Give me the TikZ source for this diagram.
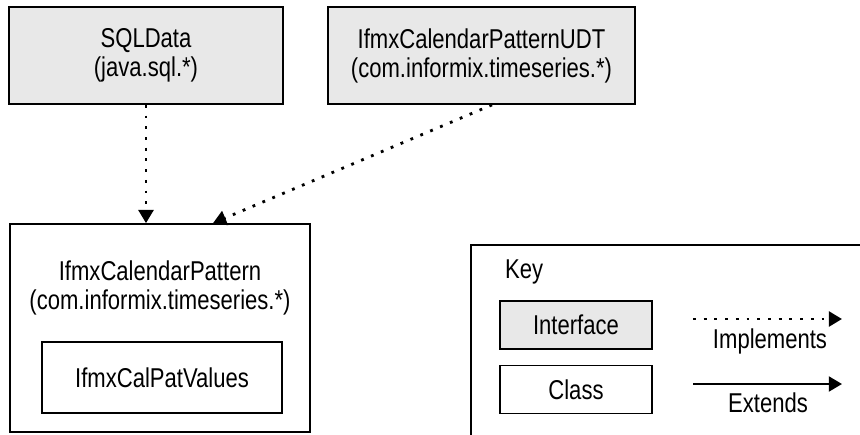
\documentclass[tikz,border=0pt]{standalone}
\usepackage{fontspec}
\setmainfont{Liberation Sans}[FakeStretch=0.81]
\usetikzlibrary{arrows.meta,calc}
\definecolor{ifacegray}{gray}{0.91}
\begin{document}
\begin{tikzpicture}[x=0.02cm,y=-0.02cm,
	iface/.style={draw,line width=1pt,fill=ifacegray,align=center,font=\fontsize{15.5}{16.5}\selectfont},
	cls/.style={draw,line width=1pt,align=center,font=\fontsize{15.5}{16.5}\selectfont},
	txt/.style={align=center,font=\fontsize{15.5}{16.5}\selectfont},
	impl/.style={line width=1.6pt,dash pattern=on 1.6pt off 4.5pt,-{Triangle[width=8.5pt,length=7.5pt]}},
	ext/.style={line width=1.3pt,-{Triangle[width=8.5pt,length=7.5pt]}}]
			\useasboundingbox (0,0) rectangle (860,434);
			\clip (0,0) rectangle (860,434);
			% interfaces
			\node[iface,minimum width=5.48cm,minimum height=1.94cm] (sql) at (146,55.5) {SQLData\\(java.sql.*)};
			\node[iface,minimum width=6.14cm,minimum height=1.94cm] (udt) at (481.5,55.5) {IfmxCalendarPatternUDT\\(com.informix.timeseries.*)};
			% class
			\node[cls,minimum width=6cm,minimum height=4.16cm] (cal) at (160,328) {};
			\node[txt] (caltitle) at (160,287.5) {IfmxCalendarPattern\\(com.informix.timeseries.*)};
			\node[cls,minimum width=4.8cm,minimum height=1.42cm] (calvals) at (162,377.5) {IfmxCalPatValues};
			\draw[impl] (sql) -- (sql |- cal.north);
			\coordinate (udtout) at ($(udt.south)+(10.5,0)$);
			\coordinate (calin) at ($(cal.north)+(53,0)$);
			\draw[impl] (udtout) -- (calin);
			% key
			\draw[line width=1pt] (870,245) -| (471,444);
			\node[txt,anchor=west] (key) at (499,272) {Key};
			\node[iface,minimum width=3.04cm,minimum height=0.96cm] (ikey) at (576,325) {Interface};
			\node[cls,minimum width=3.04cm,minimum height=0.96cm] (ckey) at (576,389.5) {Class};
			\coordinate (ia) at (693,319); \coordinate (ib) at (842,319);
			\coordinate (ea) at (693,384); \coordinate (eb) at (842,384);
			\draw[impl] (ia) -- (ib);
			\draw[ext] (ea) -- (eb);
			\node[txt] (implabel) at (770,341) {Implements};
			\node[txt] (extlabel) at (768,403) {Extends};
			\end{tikzpicture}
\end{document}
